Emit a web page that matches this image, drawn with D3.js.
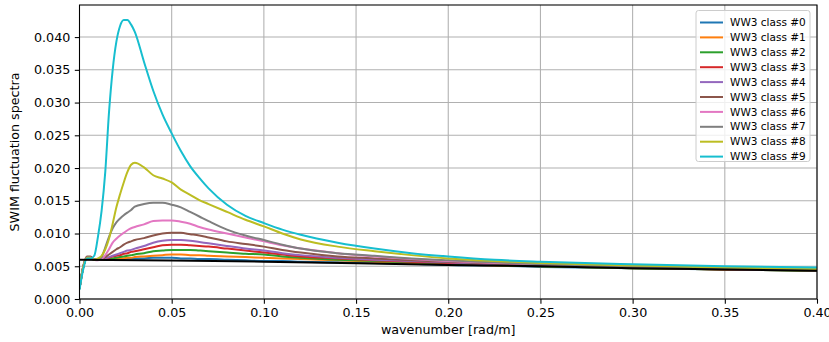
<!DOCTYPE html>
<html>
<head>
<meta charset="utf-8">
<script src="https://cdn.jsdelivr.net/npm/d3@7"></script>
<style>
  body { margin: 0; background: #fff; }
  svg { font-family: "DejaVu Sans", sans-serif; }
</style>
</head>
<body>
<svg id="chart" width="829" height="342"></svg>
<script>
// wavenumber grid shared by all classes
var wavenumber = [0, 0.002, 0.004, 0.006, 0.008, 0.010, 0.012, 0.014, 0.016, 0.018,
  0.020, 0.022, 0.024, 0.026, 0.028, 0.030, 0.035, 0.040, 0.045, 0.050,
  0.055, 0.060, 0.065, 0.070, 0.080, 0.090, 0.10, 0.11, 0.12, 0.14,
  0.16, 0.18, 0.20, 0.225, 0.25, 0.30, 0.35, 0.40];

var class0 = [0.0016, 0.0048, 0.0063, 0.0063, 0.0060, 0.0060, 0.0060, 0.0060, 0.0060, 0.0060,
  0.0060, 0.0061, 0.0061, 0.0062, 0.0062, 0.0062, 0.0062, 0.0063, 0.0063, 0.0063,
  0.0062, 0.0062, 0.0061, 0.0061, 0.0060, 0.0059, 0.0058, 0.0058, 0.0057, 0.0056,
  0.0055, 0.0054, 0.0052, 0.0051, 0.0049, 0.0047, 0.0045, 0.0043];
var class1 = [0.0016, 0.0048, 0.0063, 0.0063, 0.0060, 0.0060, 0.0060, 0.0060, 0.0060, 0.0061,
  0.0061, 0.0062, 0.0062, 0.0063, 0.0063, 0.0064, 0.0065, 0.0066, 0.0067, 0.0068,
  0.0068, 0.0067, 0.0067, 0.0066, 0.0065, 0.0064, 0.0063, 0.0062, 0.0061, 0.0059,
  0.0057, 0.0055, 0.0053, 0.0051, 0.0050, 0.0047, 0.0045, 0.0043];
var class2 = [0.0016, 0.0048, 0.0063, 0.0063, 0.0060, 0.0060, 0.0060, 0.0060, 0.0061, 0.0062,
  0.0063, 0.0064, 0.0065, 0.0066, 0.0067, 0.0068, 0.0070, 0.0073, 0.0074, 0.0075,
  0.0075, 0.0075, 0.0074, 0.0073, 0.0071, 0.0069, 0.0068, 0.0065, 0.0063, 0.0060,
  0.0058, 0.0056, 0.0054, 0.0052, 0.0050, 0.0047, 0.0045, 0.0043];
var class3 = [0.0016, 0.0048, 0.0063, 0.0063, 0.0060, 0.0060, 0.0060, 0.0061, 0.0063, 0.0065,
  0.0066, 0.0067, 0.0069, 0.0070, 0.0072, 0.0073, 0.0076, 0.0079, 0.0082, 0.0083,
  0.0083, 0.0082, 0.0081, 0.0080, 0.0077, 0.0074, 0.0071, 0.0068, 0.0065, 0.0062,
  0.0059, 0.0057, 0.0055, 0.0053, 0.0051, 0.0048, 0.0045, 0.0044];
var class4 = [0.0016, 0.0048, 0.0063, 0.0063, 0.0060, 0.0060, 0.0060, 0.0062, 0.0064, 0.0066,
  0.0068, 0.0070, 0.0072, 0.0074, 0.0075, 0.0077, 0.0081, 0.0086, 0.0089, 0.0090,
  0.0090, 0.0089, 0.0087, 0.0085, 0.0081, 0.0077, 0.0074, 0.0070, 0.0067, 0.0063,
  0.0060, 0.0058, 0.0056, 0.0053, 0.0051, 0.0048, 0.0046, 0.0044];
var class5 = [0.0016, 0.0050, 0.0065, 0.0065, 0.0060, 0.0060, 0.0061, 0.0064, 0.0068, 0.0072,
  0.0076, 0.0079, 0.0083, 0.0086, 0.0088, 0.0090, 0.0093, 0.0097, 0.0100, 0.0101,
  0.0101, 0.0099, 0.0097, 0.0094, 0.0088, 0.0084, 0.0080, 0.0075, 0.0071, 0.0065,
  0.0062, 0.0059, 0.0057, 0.0054, 0.0052, 0.0048, 0.0046, 0.0044];
var class6 = [0.0016, 0.0048, 0.0063, 0.0063, 0.0060, 0.0059, 0.0061, 0.0067, 0.0076, 0.0086,
  0.0092, 0.0097, 0.0101, 0.0105, 0.0108, 0.0110, 0.0114, 0.0119, 0.0120, 0.0120,
  0.0118, 0.0115, 0.0110, 0.0106, 0.0100, 0.0094, 0.0088, 0.0082, 0.0077, 0.0070,
  0.0065, 0.0061, 0.0058, 0.0055, 0.0053, 0.0049, 0.0046, 0.0044];
var class7 = [0.0016, 0.0048, 0.0063, 0.0063, 0.0060, 0.0060, 0.0064, 0.0079, 0.0095, 0.0108,
  0.0117, 0.0123, 0.0128, 0.0132, 0.0136, 0.0141, 0.0145, 0.0147, 0.0147, 0.0144,
  0.0140, 0.0133, 0.0126, 0.0119, 0.0106, 0.0097, 0.0090, 0.0083, 0.0077, 0.0070,
  0.0066, 0.0062, 0.0059, 0.0056, 0.0053, 0.0049, 0.0047, 0.0045];
var class8 = [0.0016, 0.0048, 0.0063, 0.0063, 0.0060, 0.0062, 0.0066, 0.0076, 0.0092, 0.0115,
  0.0140, 0.0160, 0.0178, 0.0194, 0.0205, 0.0208, 0.0201, 0.0189, 0.0184, 0.0178,
  0.0167, 0.0159, 0.0151, 0.0145, 0.0133, 0.0121, 0.0111, 0.0100, 0.0091, 0.0080,
  0.0073, 0.0067, 0.0062, 0.0058, 0.0055, 0.0051, 0.0048, 0.0046];
var class9 = [0.0014, 0.0045, 0.0062, 0.0062, 0.0066, 0.0095, 0.0135, 0.0195, 0.0285, 0.0350,
  0.0393, 0.0417, 0.0426, 0.0426, 0.0419, 0.0408, 0.0362, 0.0318, 0.0282, 0.0253,
  0.0226, 0.0203, 0.0185, 0.0169, 0.0144, 0.0127, 0.0116, 0.0106, 0.0098, 0.0086,
  0.0077, 0.0070, 0.0065, 0.0060, 0.0057, 0.0053, 0.0050, 0.0048];

// reference (black) curve
var refWavenumber = [0, 0.05, 0.10, 0.15, 0.20, 0.25, 0.30, 0.35, 0.40];
var refValues = [0.0060, 0.00588, 0.0057, 0.00545, 0.0052, 0.0050, 0.0047, 0.0045, 0.0043];

var classNames = ["WW3 class #0", "WW3 class #1", "WW3 class #2", "WW3 class #3", "WW3 class #4",
  "WW3 class #5", "WW3 class #6", "WW3 class #7", "WW3 class #8", "WW3 class #9"];
var classValues = [class0, class1, class2, class3, class4, class5, class6, class7, class8, class9];
var colors = ["#1f77b4", "#ff7f0e", "#2ca02c", "#d62728", "#9467bd",
  "#8c564b", "#e377c2", "#7f7f7f", "#bcbd22", "#17becf"];

var xTicks = [0, 0.05, 0.10, 0.15, 0.20, 0.25, 0.30, 0.35, 0.40];
var yTicks = [0, 0.005, 0.010, 0.015, 0.020, 0.025, 0.030, 0.035, 0.040];

var margin = { top: 5, right: 12, bottom: 43, left: 79.5 };
var svg = d3.select("#chart");
var width = 829 - margin.left - margin.right;
var height = 342 - margin.top - margin.bottom;

var x = d3.scaleLinear().domain([0, 0.40]).range([0, width]);
var y = d3.scaleLinear().domain([0, 0.0449]).range([height, 0]);

var g = svg.append("g")
  .attr("transform", "translate(" + margin.left + "," + margin.top + ")");

// grid
g.append("g").selectAll("line").data(xTicks).enter().append("line")
  .attr("x1", function(d) { return x(d); }).attr("x2", function(d) { return x(d); })
  .attr("y1", 0).attr("y2", height)
  .attr("stroke", "#b0b0b0").attr("stroke-width", 1.07);
g.append("g").selectAll("line").data(yTicks).enter().append("line")
  .attr("y1", function(d) { return y(d); }).attr("y2", function(d) { return y(d); })
  .attr("x1", 0).attr("x2", width)
  .attr("stroke", "#b0b0b0").attr("stroke-width", 1.07);

svg.append("clipPath").attr("id", "clip")
  .append("rect").attr("width", width).attr("height", height);

var line = d3.line()
  .x(function(d) { return x(d[0]); })
  .y(function(d) { return y(d[1]); })
  .curve(d3.curveMonotoneX);

var plot = g.append("g").attr("clip-path", "url(#clip)");

classValues.forEach(function(vals, i) {
  plot.append("path")
    .datum(wavenumber.map(function(k, j) { return [k, vals[j]]; }))
    .attr("fill", "none")
    .attr("stroke", colors[i])
    .attr("stroke-width", 2)
    .attr("d", line);
});

plot.append("path")
  .datum(refWavenumber.map(function(k, j) { return [k, refValues[j]]; }))
  .attr("fill", "none")
  .attr("stroke", "#000")
  .attr("stroke-width", 2)
  .attr("d", line);

// axes
var xAxis = g.append("g")
  .attr("transform", "translate(0," + height + ")")
  .call(d3.axisBottom(x).tickValues(xTicks).tickFormat(d3.format(".2f"))
    .tickSizeOuter(0).tickSize(4.7).tickPadding(4.5));
var yAxis = g.append("g")
  .call(d3.axisLeft(y).tickValues(yTicks).tickFormat(d3.format(".3f"))
    .tickSizeOuter(0).tickSize(4.7).tickPadding(4.5));
[xAxis, yAxis].forEach(function(a) {
  a.select(".domain").remove();
  a.selectAll("line").attr("stroke", "#000").attr("stroke-width", 1.07);
  a.selectAll("text").attr("font-size", "12.7px").attr("fill", "#000")
    .attr("font-family", "DejaVu Sans");
});

// spines
g.append("rect")
  .attr("width", width).attr("height", height)
  .attr("fill", "none").attr("stroke", "#000").attr("stroke-width", 1.07);

// axis labels
svg.append("text")
  .attr("x", margin.left + width / 2).attr("y", 334)
  .attr("text-anchor", "middle").attr("font-size", "12.7px")
  .text("wavenumber [rad/m]");
svg.append("text")
  .attr("transform", "translate(19," + (margin.top + height / 2) + ") rotate(-90)")
  .attr("text-anchor", "middle").attr("font-size", "12.7px")
  .text("SWIM fluctuation spectra");

// legend
var legend = g.append("g").attr("transform", "translate(" + (width - 121) + ",5.5)");
legend.append("rect")
  .attr("width", 114).attr("height", 151)
  .attr("rx", 2.5)
  .attr("fill", "#fff").attr("fill-opacity", 0.8)
  .attr("stroke", "#cccccc").attr("stroke-width", 1);
classNames.forEach(function(name, i) {
  var ly = 12 + i * 14.9;
  legend.append("line")
    .attr("x1", 4).attr("x2", 27).attr("y1", ly).attr("y2", ly)
    .attr("stroke", colors[i]).attr("stroke-width", 2);
  legend.append("text")
    .attr("x", 34).attr("y", ly).attr("dy", "0.35em")
    .attr("font-size", "10.5px")
    .text(name);
});
</script>
</body>
</html>
